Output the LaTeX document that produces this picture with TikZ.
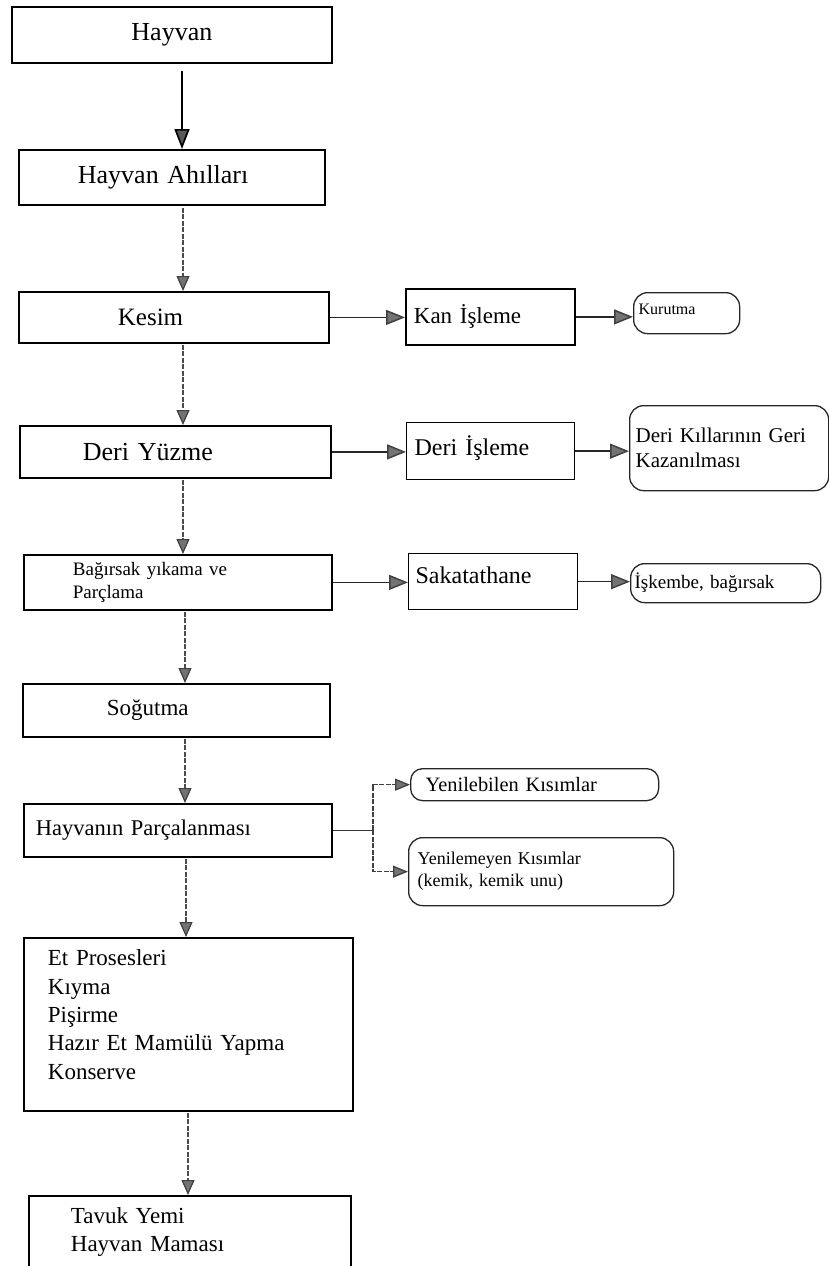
\documentclass[tikz,border=0pt]{standalone}
\usepackage{fontspec}
\setmainfont{Liberation Serif}
\usetikzlibrary{arrows.meta,calc}
\begin{document}
\begin{tikzpicture}[x=1pt,y=-1pt,
  fs/.style 2 args={font=\fontsize{#1}{#2}\selectfont},
  bx/.style={draw=black, line width=1.8pt, anchor=north west, inner ysep=0pt, align=left},
  tbx/.style={bx, line width=1.3pt},
  rbx/.style={draw=black!85, line width=1.3pt, rounded corners=14pt, anchor=north west, inner ysep=0pt, align=left},
  arrfirst/.style={draw=black, line width=1.7pt, -{Triangle[length=20pt,width=15pt,fill=black!65]}},
  varr/.style={draw=black!70, line width=1.2pt, dash pattern=on 5pt off 1.5pt, -{Triangle[length=15pt,width=13pt,fill=black!55,color=black!75]}},
  harr/.style={draw=black!85, line width=1.5pt, -{Triangle[length=19pt,width=15pt,fill=black!55,color=black!75]}},
  jline/.style={draw=black!80, line width=1.3pt},
  jarr/.style={draw=black!75, line width=1.3pt, dash pattern=on 5pt off 1.5pt, -{Triangle[length=15pt,width=12pt,fill=black!55,color=black!75]}}
]
\useasboundingbox (0,0) rectangle (829,1266);

% main column
\node[bx, fs={26}{31}, minimum height=56pt, inner xsep=10pt, text width=300pt, align=center] (hayvan) at (11,6) {Hayvan};
\node[bx, fs={26}{31}, minimum height=55pt, inner xsep=59pt, text width=188pt] (ahil) at (18,149) {Hayvan Ahılları};
\node[bx, fs={25}{30}, minimum height=51pt, inner xsep=99pt, text width=112pt] (kesim) at (18,291) {Kesim};
\node[bx, fs={26}{31}, minimum height=52pt, inner xsep=63pt, text width=185pt] (deri) at (19,425) {Deri Yüzme};
\node[bx, fs={19}{23}, minimum height=55pt, inner xsep=49pt, text width=210pt] (bag) at (23,554) {Bağırsak yıkama ve\\Parçlama};
\node[bx, fs={23}{28}, minimum height=53pt, inner xsep=84pt, text width=139pt] (sog) at (22,683) {Soğutma};
\node[bx, fs={22.5}{27}, minimum height=53pt, inner xsep=12pt, text width=284pt] (hp) at (23,803) {Hayvanın Parçalanması};
\node[bx, fs={23}{28.3}, minimum height=173pt, inner xsep=24pt, text width=281pt, text depth=133pt] (et) at (23,937) {Et Prosesleri\\Kıyma\\Pişirme\\Hazır Et Mamülü Yapma\\Konserve};
\node[bx, fs={23}{28}, minimum height=72pt, inner xsep=42pt, text width=238pt] (tavuk) at (28,1195) {Tavuk Yemi\\Hayvan Maması};

% second column
\node[bx, fs={23}{28}, minimum height=56pt, inner xsep=8pt, text width=153pt] (kan) at (405,288) {Kan İşleme};
\node[tbx, fs={24}{29}, minimum height=57pt, inner xsep=8pt, text width=152pt, text depth=11pt] (deriis) at (406,422) {Deri İşleme};
\node[tbx, fs={24}{29}, minimum height=56pt, inner xsep=7pt, text width=155pt, text depth=12pt] (saka) at (408,553) {Sakatathane};

% third column
\node[rbx, fs={16}{19}, minimum height=41pt, inner xsep=5pt, text width=96pt, text depth=7pt] (kurutma) at (633,292) {Kurutma};
\node[rbx, fs={21}{25}, minimum height=85pt, inner xsep=6pt, text width=187pt] (kil) at (629,405) {Deri Kıllarının Geri\\Kazanılması};
\node[rbx, fs={19}{23}, minimum height=39pt, inner xsep=4pt, text width=182pt] (iskembe) at (630,563) {İşkembe, bağırsak};
\node[rbx, rounded corners=12pt, fs={20.4}{24}, minimum height=32pt, inner xsep=15pt, text width=218pt] (yl) at (410,768) {Yenilebilen Kısımlar};
\node[rbx, fs={18}{22}, minimum height=68pt, inner xsep=9pt, text width=247pt] (ym) at (408,837) {Yenilemeyen Kısımlar\\(kemik, kemik unu)};

% vertical connectors
\coordinate (c1) at (182,0);
\coordinate (c2) at (183,0);
\coordinate (c3) at (185,0);
\coordinate (c4) at (186,0);
\coordinate (c5) at (188,0);
\draw[arrfirst, shorten <=7pt] (hayvan.south -| c1) -- (ahil.north -| c1);
\draw[varr, shorten <=2pt] (ahil.south -| c2) -- (kesim.north -| c2);
\draw[varr, shorten <=1pt] (kesim.south -| c2) -- (deri.north -| c2);
\draw[varr, shorten <=1pt] (deri.south -| c2) -- (bag.north -| c2);
\draw[varr, shorten <=1pt] (bag.south -| c3) -- (sog.north -| c3);
\draw[varr, shorten <=1pt] (sog.south -| c3) -- (hp.north -| c3);
\draw[varr, shorten <=1pt] (hp.south -| c4) -- (et.north -| c4);
\draw[varr, shorten <=1pt] (et.south -| c5) -- (tavuk.north -| c5);

% horizontal connectors
\draw[harr] (kesim.east) -- (kesim.east -| kan.west);
\draw[harr] (kan.east) -- (kan.east -| kurutma.west);
\draw[harr] (deri.east) -- (deri.east -| deriis.west);
\draw[harr] (deriis.east) -- (deriis.east -| kil.west);
\draw[harr] (bag.east) -- (bag.east -| saka.west);
\draw[harr] (saka.east) -- (saka.east -| iskembe.west);

% split connector
\coordinate (jx) at (373,0);
\coordinate (jn) at (hp.east -| jx);
\draw[jline] (hp.east) -- (jn);
\draw[jarr] (jn) |- (yl.west);
\draw[jarr] (jn) |- (ym.west);
\end{tikzpicture}
\end{document}
